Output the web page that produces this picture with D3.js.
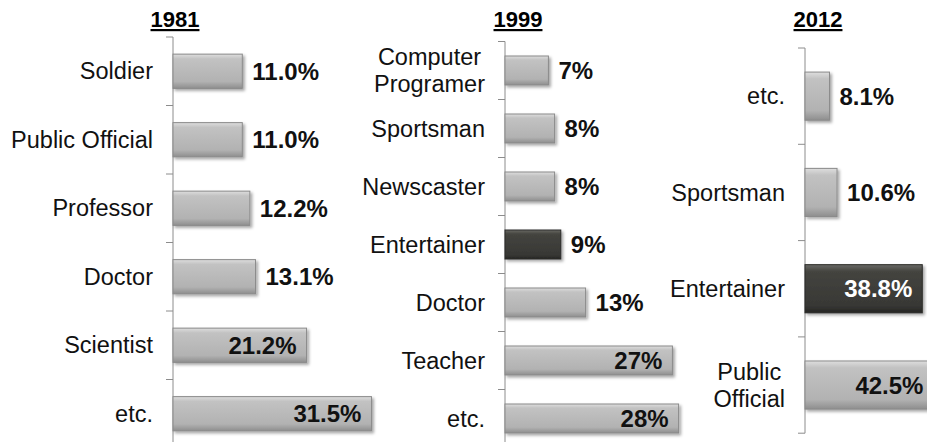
<!DOCTYPE html>
<html>
<head>
<meta charset="utf-8">
<script src="https://cdn.jsdelivr.net/npm/d3@7"></script>
<style>
  body { margin: 0; background: #fff; }
  svg { display: block; font-family: "Liberation Sans", Arial, sans-serif; }
</style>
</head>
<body>
<div id="chart"></div>
<script>
// data
const years = ["1981", "1999", "2012"];

const jobs1981 = ["Soldier", "Public Official", "Professor", "Doctor", "Scientist", "etc."];
const pct1981  = [11.0, 11.0, 12.2, 13.1, 21.2, 31.5];

const jobs1999 = ["Computer\nProgramer", "Sportsman", "Newscaster", "Entertainer", "Doctor", "Teacher", "etc."];
const pct1999  = [7, 8, 8, 9, 13, 27, 28];

const jobs2012 = ["etc.", "Sportsman", "Entertainer", "Public\nOfficial"];
const pct2012  = [8.1, 10.6, 38.8, 42.5];

const highlightJob = "Entertainer";

// layout for each panel
const panels = [
  {year: years[0], jobs: jobs1981, pct: pct1981, axisX: 173, top: 37,   step: 68.5, xMax: 35, xLen: 220.5, fmt: ".1f", titleX: 175, tickEnd: false},
  {year: years[1], jobs: jobs1999, pct: pct1999, axisX: 505, top: 41.5, step: 58,   xMax: 30, xLen: 186,   fmt: ".0f", titleX: 518, tickEnd: false},
  {year: years[2], jobs: jobs2012, pct: pct2012, axisX: 805, top: 48,   step: 96.3, xMax: 45, xLen: 136,   fmt: ".1f", titleX: 818, tickEnd: true}
];

const width = 927, height = 442;

const svg = d3.select("#chart").append("svg")
  .attr("width", width)
  .attr("height", height);

const defs = svg.append("defs");

let grad = defs.append("linearGradient").attr("id", "gGray")
  .attr("x1", 0).attr("y1", 0).attr("x2", 0).attr("y2", 1);
grad.append("stop").attr("offset", "0%").attr("stop-color", "#dedede");
grad.append("stop").attr("offset", "14%").attr("stop-color", "#c2c2c2");
grad.append("stop").attr("offset", "80%").attr("stop-color", "#b2b2b2");
grad.append("stop").attr("offset", "100%").attr("stop-color", "#8e8e8e");

let gradD = defs.append("linearGradient").attr("id", "gDark")
  .attr("x1", 0).attr("y1", 0).attr("x2", 0).attr("y2", 1);
gradD.append("stop").attr("offset", "0%").attr("stop-color", "#6a6a66");
gradD.append("stop").attr("offset", "14%").attr("stop-color", "#44443f");
gradD.append("stop").attr("offset", "85%").attr("stop-color", "#383835");
gradD.append("stop").attr("offset", "100%").attr("stop-color", "#262624");

defs.append("filter").attr("id", "shadow")
  .attr("x", "-10%").attr("y", "-20%").attr("width", "130%").attr("height", "160%")
  .append("feDropShadow")
  .attr("dx", 2).attr("dy", 2).attr("stdDeviation", 1.4)
  .attr("flood-color", "#000").attr("flood-opacity", 0.35);

panels.forEach(function(p){
  let n = p.jobs.length;
  let rows = p.jobs.map(function(j, i){ return {job: j, value: p.pct[i]}; });

  let yScale = d3.scaleBand()
    .domain(p.jobs)
    .range([p.top, p.top + n * p.step])
    .paddingInner(0.5)
    .paddingOuter(0.25);

  let xScale = d3.scaleLinear()
    .domain([0, p.xMax])
    .range([p.axisX, p.axisX + p.xLen]);

  let g = svg.append("g");

  // title
  g.append("text")
    .attr("x", p.titleX)
    .attr("y", 27)
    .attr("text-anchor", "middle")
    .style("font-size", "22px")
    .style("font-weight", "bold")
    .style("text-decoration", "underline")
    .text(p.year);

  // axis line + ticks at band boundaries
  let step = yScale.step();
  let bounds = d3.range(n + 1).map(function(i){ return p.top + i * step; });
  let axisBottom = p.tickEnd ? bounds[n] : height + 5;
  g.append("line")
    .attr("x1", p.axisX).attr("x2", p.axisX)
    .attr("y1", bounds[0]).attr("y2", axisBottom)
    .attr("stroke", "#8c8c8c").attr("stroke-width", 1);
  g.selectAll(".tick").data(bounds.filter(function(b, i){ return i < n || p.tickEnd; }))
    .enter().append("line")
    .attr("x1", p.axisX - 7).attr("x2", p.axisX)
    .attr("y1", function(d){ return d; }).attr("y2", function(d){ return d; })
    .attr("stroke", "#8c8c8c").attr("stroke-width", 1);

  // bars
  g.selectAll("rect.bar").data(rows).enter()
    .append("rect")
    .attr("class", "bar")
    .attr("x", xScale(0))
    .attr("y", function(d){ return yScale(d.job); })
    .attr("width", function(d){ return xScale(d.value) - xScale(0); })
    .attr("height", yScale.bandwidth())
    .attr("fill", function(d){ return d.job === highlightJob ? "url(#gDark)" : "url(#gGray)"; })
    .attr("stroke", function(d){ return d.job === highlightJob ? "#2a2a28" : "#8a8a8a"; })
    .attr("stroke-width", 1)
    .attr("filter", "url(#shadow)");

  // category labels
  let labelX = p.axisX - 20;
  g.selectAll("text.cat").data(rows).enter()
    .append("text")
    .attr("class", "cat")
    .style("font-size", "23.5px")
    .attr("fill", "#111")
    .each(function(d){
      let t = d3.select(this);
      let lines = d.job.split("\n");
      let cy = yScale(d.job) + yScale.bandwidth() / 2;
      let lh = 27;
      if (lines.length === 1){
        t.attr("x", labelX).attr("y", cy).attr("dy", "0.35em")
          .attr("text-anchor", "end").text(lines[0]);
      } else {
        let spans = lines.map(function(l, k){
          return t.append("tspan")
            .attr("y", cy + (k - (lines.length - 1) / 2) * lh)
            .attr("dy", "0.35em")
            .text(l);
        });
        let maxW = d3.max(spans, function(s){ return s.node().getComputedTextLength(); });
        spans.forEach(function(s){
          s.attr("x", labelX - maxW / 2).attr("text-anchor", "middle");
        });
      }
    });

  // value labels
  let fmt = d3.format(p.fmt);
  g.selectAll("text.val").data(rows).enter()
    .append("text")
    .attr("class", "val")
    .style("font-size", "24px")
    .style("font-weight", "bold")
    .attr("y", function(d){ return yScale(d.job) + yScale.bandwidth() / 2; })
    .attr("dy", "0.36em")
    .attr("x", function(d){ return d.value >= 20 ? xScale(d.value) - 10 : xScale(d.value) + 10; })
    .attr("text-anchor", function(d){ return d.value >= 20 ? "end" : "start"; })
    .attr("fill", function(d){ return (d.value >= 20 && d.job === highlightJob) ? "#fff" : "#111"; })
    .text(function(d){ return fmt(d.value) + "%"; });
});
</script>
</body>
</html>
